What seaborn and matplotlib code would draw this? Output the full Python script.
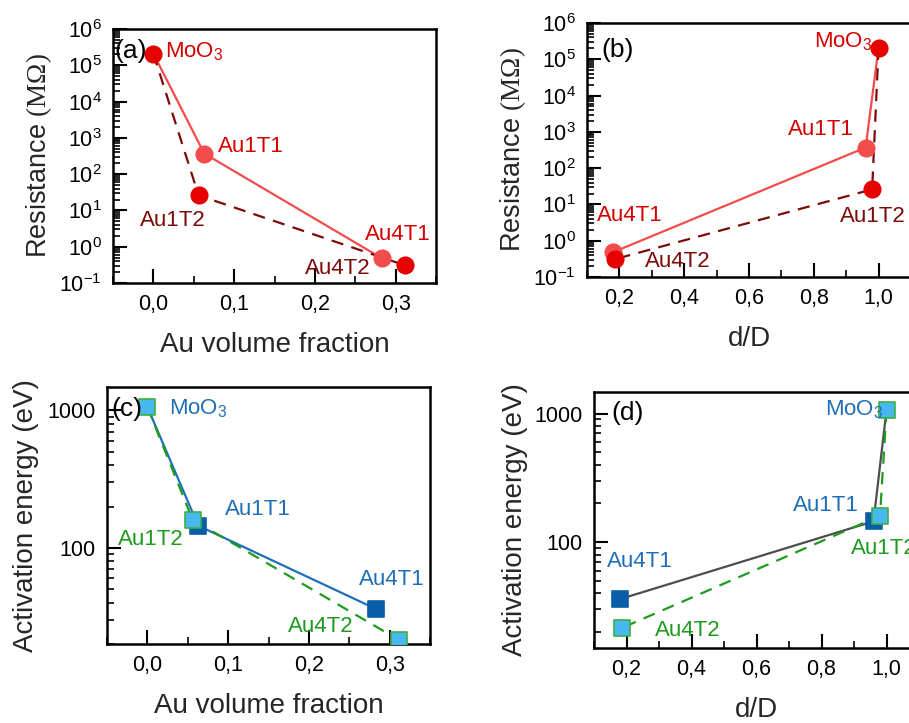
import matplotlib
matplotlib.use("Agg")
import matplotlib.pyplot as plt
import seaborn as sns
import numpy as np
import pandas as pd
from matplotlib.ticker import LogLocator, NullFormatter, MultipleLocator, FuncFormatter

# ---------------- data ----------------
samples = ["MoO3", "Au1T1", "Au1T2", "Au4T1", "Au4T2"]
sample_labels = ["MoO$_{\\mathsf{3}}$", "Au1T1", "Au1T2", "Au4T1", "Au4T2"]
au_fraction = [0.0, 0.063, 0.056, 0.283, 0.311]
d_over_D = [1.0, 0.96, 0.98, 0.18, 0.186]
resistance = [2.1e5, 370.0, 26.0, 0.48, 0.31]
activation = [1060.0, 145.0, 160.0, 36.0, 21.5]
path_T1 = ["MoO3", "Au1T1", "Au4T1"]
path_T2 = ["MoO3", "Au1T2", "Au4T2"]

df = pd.DataFrame({"sample": samples, "frac": au_fraction, "dD": d_over_D,
                   "R": resistance, "Ea": activation}).set_index("sample")

# ---------------- style ----------------
sns.set_theme(style="ticks")
plt.rcParams["font.family"] = ["Liberation Sans", "DejaVu Sans"]
plt.rcParams["mathtext.fontset"] = "custom"
plt.rcParams["mathtext.rm"] = "Liberation Serif"
plt.rcParams["mathtext.sf"] = "Liberation Sans"
plt.rcParams["mathtext.it"] = "Liberation Serif:italic"

W, H = 909, 723
fig = plt.figure(figsize=(W / 100, H / 100), dpi=100)

def add_ax(left, top, right, bottom):
    return fig.add_axes([left / W, 1 - bottom / H, (right - left) / W, (bottom - top) / H])

ax_a = add_ax(113, 29, 436, 283)
ax_b = add_ax(587, 23, 911, 277)
ax_c = add_ax(107, 387, 430, 644)
ax_d = add_ax(594, 392, 919, 648)

RED = "#e60000"
LRED = "#f24c4c"
DRED = "#7d0a0a"
TRED = "#d40000"
BLUE = "#1f6fb8"
DBLUE = "#0a5ea8"
LBLUE = "#48b9f0"
GREEN = "#1e9a1e"
EGREEN = "#3cb043"
GRAY = "#4d4d4d"

comma = FuncFormatter(lambda v, p: ("%.1f" % v).replace(".", ","))

def style_axes(ax, xlim, xmajor, xminor, ylim):
    ax.set_xlim(*xlim)
    ax.set_yscale("log")
    ax.set_ylim(*ylim)
    ax.xaxis.set_major_locator(MultipleLocator(xmajor))
    ax.xaxis.set_minor_locator(MultipleLocator(xminor))
    ax.xaxis.set_major_formatter(comma)
    ax.yaxis.set_major_locator(LogLocator(base=10, numticks=20))
    ax.yaxis.set_minor_locator(LogLocator(base=10, subs=np.arange(2, 10), numticks=20))
    ax.yaxis.set_minor_formatter(NullFormatter())
    ax.tick_params(which="both", direction="in", top=False, right=False,
                   color="black", labelcolor="black", labelsize=15.5)
    ax.tick_params(which="major", length=10, width=1.5, pad=8)
    ax.tick_params(which="minor", length=5, width=1.2)
    for s in ax.spines.values():
        s.set_linewidth(1.8)
        s.set_color("black")
        s.set_visible(True)

def draw(ax, xcol, ycol, c1, c2, mk, m_main, m_t2, m_t1, edge_t2, tcol1, tcol2, offsets, ms):
    d1 = df.loc[path_T1].reset_index()
    d2 = df.loc[path_T2].reset_index()
    sns.lineplot(data=d1, x=xcol, y=ycol, sort=False, estimator=None, ax=ax,
                 color=c1, lw=1.6, zorder=2)
    sns.lineplot(data=d2, x=xcol, y=ycol, sort=False, estimator=None, ax=ax,
                 color=c2, lw=1.6, zorder=2)
    ax.lines[-1].set_linestyle((0, (5.5, 3.8)))
    fc = {"MoO3": m_main, "Au1T1": m_t1, "Au4T1": m_t1, "Au1T2": m_t2, "Au4T2": m_t2}
    ec = {"MoO3": edge_t2, "Au1T1": m_t1, "Au4T1": m_t1, "Au1T2": edge_t2, "Au4T2": edge_t2}
    for s in samples:
        sns.scatterplot(x=[df.loc[s, xcol]], y=[df.loc[s, ycol]], ax=ax, marker=mk,
                        s=ms, color=fc[s], edgecolor=ec[s], linewidth=1.2, zorder=3)
    tcol = {"MoO3": tcol1, "Au1T1": tcol1, "Au4T1": tcol1, "Au1T2": tcol2, "Au4T2": tcol2}
    for s, lab in zip(samples, sample_labels):
        dx, dy, ha = offsets[s]
        ax.annotate(lab, (df.loc[s, xcol], df.loc[s, ycol]), xytext=(dx * 0.72, dy * 0.72),
                    textcoords="offset points", ha=ha, va="center", fontsize=16,
                    color=tcol[s], zorder=4, annotation_clip=False)

# (a)
style_axes(ax_a, (-0.05, 0.35), 0.1, 0.05, (0.1, 1e6))
draw(ax_a, "frac", "R", LRED, DRED, "o", RED, RED, LRED, RED, TRED, DRED,
     {"MoO3": (12, 3, "left"), "Au1T1": (14, 7, "left"), "Au1T2": (-26, -25, "center"),
      "Au4T1": (16, 24, "center"), "Au4T2": (-67, -3, "center")}, 140)
# (b)
style_axes(ax_b, (0.1, 1.1), 0.2, 0.1, (0.1, 1e6))
draw(ax_b, "dD", "R", LRED, DRED, "o", RED, RED, LRED, RED, TRED, DRED,
     {"MoO3": (-6, 7, "right"), "Au1T1": (-45, 18, "center"), "Au1T2": (1, -27, "center"),
      "Au4T1": (17, 37, "center"), "Au4T2": (63, -2, "center")}, 140)
# (c)
style_axes(ax_c, (-0.05, 0.35), 0.1, 0.05, (20, 1480))
draw(ax_c, "frac", "Ea", BLUE, GREEN, "s", LBLUE, LBLUE, DBLUE, EGREEN, BLUE, GREEN,
     {"MoO3": (22, -1, "left"), "Au1T1": (60, 16, "center"), "Au1T2": (-42, -20, "center"),
      "Au4T1": (16, 29, "center"), "Au4T2": (-78, 13, "center")}, 120)
# (d)
style_axes(ax_d, (0.1, 1.1), 0.2, 0.1, (15, 1470))
draw(ax_d, "dD", "Ea", GRAY, GREEN, "s", LBLUE, LBLUE, DBLUE, EGREEN, BLUE, GREEN,
     {"MoO3": (-3, 1, "right"), "Au1T1": (-48, 16, "center"), "Au1T2": (4, -33, "center"),
      "Au4T1": (20, 38, "center"), "Au4T2": (66, -3, "center")}, 120)

for ax in (ax_c, ax_d):
    ax.yaxis.set_major_formatter(FuncFormatter(lambda v, p: "%d" % round(v)))

for ax, lab, x, y in ((ax_a, "(a)", 0.004, 0.912), (ax_b, "(b)", 0.045, 0.894),
                      (ax_c, "(c)", 0.012, 0.915), (ax_d, "(d)", 0.054, 0.917)):
    ax.text(x, y, lab, transform=ax.transAxes, fontsize=19, ha="left", va="center",
            color="black", zorder=5)

for ax, lab in ((ax_a, "Au volume fraction"), (ax_c, "Au volume fraction"),
                (ax_b, "d/D"), (ax_d, "d/D")):
    ax.set_xlabel(lab, fontsize=20, labelpad=12)
ax_a.set_ylabel(r"Resistance $(\mathrm{M\Omega})$", fontsize=19.5, labelpad=4)
ax_b.set_ylabel(r"Resistance $(\mathrm{M\Omega})$", fontsize=19.5, labelpad=4)
ax_c.set_ylabel("Activation energy (eV)", fontsize=20, labelpad=6)
ax_d.set_ylabel("Activation energy (eV)", fontsize=20, labelpad=5)

fig.savefig("out.png", dpi=100)
